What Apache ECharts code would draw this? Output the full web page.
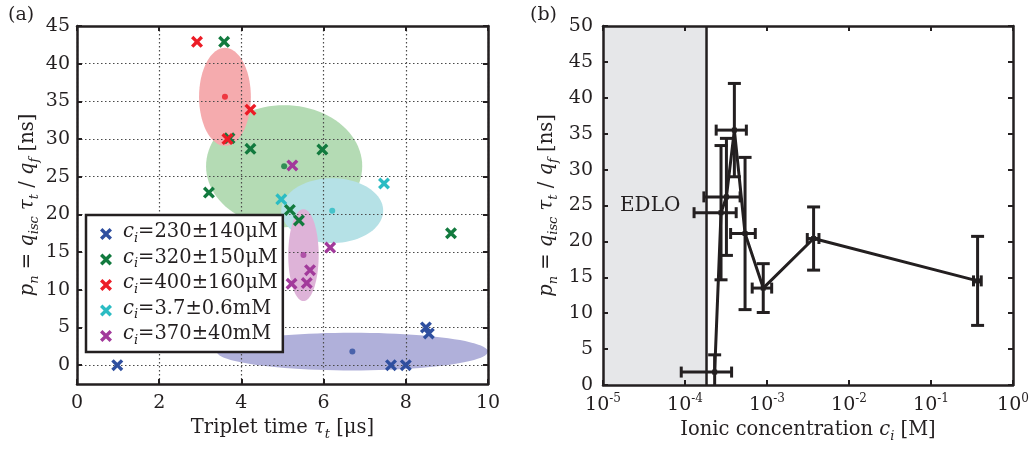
<!DOCTYPE html>
<html>
<head>
<meta charset="utf-8">
<script src="https://cdn.jsdelivr.net/npm/echarts@6/dist/echarts.min.js"></script>
<style>
  html, body { margin: 0; padding: 0; background: #fff; }
  #chart { width: 1035px; height: 454px; }
</style>
</head>
<body>
<div id="chart"></div>
<script>
// ---- panel (a): individual measurements, tau_t [us] vs p_n [ns] ----
const groupLabels = ['230±140μM', '320±150μM', '400±160μM', '3.7±0.6mM', '370±40mM'];
const groupColors = ['#2f4f9f', '#127a3e', '#ec1c26', '#2bbcc3', '#a23a9b'];
const ellipseFills = ['#b0b0da', '#b4dbb4', '#f5abae', '#b5e1e6', '#deb3d8'];

const pointsLow   = [[0.98, 0], [7.64, 0], [8.0, 0], [8.49, 5.0], [8.56, 4.2]];
const pointsMid   = [[3.58, 42.9], [3.71, 30.1], [4.22, 28.7], [5.97, 28.6], [3.21, 22.9], [5.18, 20.6], [5.40, 19.2], [9.10, 17.5]];
const pointsHigh  = [[2.92, 42.9], [4.22, 33.9], [3.66, 30.0]];
const pointsMilli = [[7.47, 24.1], [4.97, 22.0]];
const pointsMolar = [[5.24, 26.5], [6.16, 15.6], [5.67, 12.6], [5.22, 10.8], [5.59, 10.9]];
const groupPoints = [pointsLow, pointsMid, pointsHigh, pointsMilli, pointsMolar];

// group centre [tau, p] and spread [d_tau, d_p]
const groupCentres = [[6.70, 1.8], [5.04, 26.4], [3.60, 35.6], [6.21, 20.5], [5.51, 14.6]];
const groupSpread  = [[3.30, 2.5], [1.90, 8.1], [0.63, 6.5], [1.24, 4.3], [0.37, 6.1]];

const tauTicks = [0, 2, 4, 6, 8, 10];
const pTicksA = [0, 5, 10, 15, 20, 25, 30, 35, 40, 45];

// ---- panel (b): group means vs ionic concentration ----
const concentration = [2.3e-4, 2.75e-4, 3.2e-4, 4.0e-4, 5.4e-4, 9.0e-4, 3.7e-3, 0.37];
const concErr       = [1.4e-4, 1.46e-4, 1.5e-4, 1.6e-4, 1.8e-4, 2.4e-4, 0.6e-3, 0.04];
const pnMean        = [1.8, 24.0, 26.2, 35.5, 21.1, 13.5, 20.4, 14.5];
const pnErr         = [2.4, 9.35, 8.15, 6.5, 10.6, 3.4, 4.4, 6.2];
const edloLimit = 1.83e-4;
const pRangeB = [0, 50];

const ink = '#231f20';
const serif = 'DejaVu Serif';
const crossPath = 'path://M0,2 L2,0 L5,3 L8,0 L10,2 L7,5 L10,8 L8,10 L5,7 L2,10 L0,8 L3,5 Z';

const nameRich = {
  r:   { fontFamily: serif, fontSize: 19.5, color: ink, lineHeight: 22, padding: [0, 0, 3, 0], verticalAlign: 'bottom' },
  it:  { fontFamily: serif, fontSize: 19.5, color: ink, lineHeight: 22, padding: [0, 0, 3, 0], verticalAlign: 'bottom', fontStyle: 'italic' },
  sub: { fontFamily: serif, fontSize: 13, color: ink, lineHeight: 14, verticalAlign: 'bottom', fontStyle: 'italic' }
};

const chart = echarts.init(document.getElementById('chart'), null, { renderer: 'canvas' });

const tickStyle = { show: true, inside: true, length: 5, lineStyle: { color: ink, width: 2 } };
const frameLine = { show: true, onZero: false, lineStyle: { color: ink, width: 2.5 } };
const labelStyle = { fontFamily: serif, fontSize: 19, color: ink };

const series = [];

// spread ellipses
series.push({
  type: 'custom', name: 'spread', xAxisIndex: 0, yAxisIndex: 0, z: 1, silent: true,
  data: groupCentres.map((c, i) => [c[0], c[1], groupSpread[i][0], groupSpread[i][1]]),
  renderItem: function (params, api) {
    const cx = api.value(0), cy = api.value(1), rx = api.value(2), ry = api.value(3);
    const pts = [];
    for (let k = 0; k < 96; k++) {
      const t = k / 96 * Math.PI * 2;
      pts.push(api.coord([cx + rx * Math.cos(t), cy + ry * Math.sin(t)]));
    }
    return { type: 'polygon', shape: { points: pts }, style: { fill: ellipseFills[params.dataIndex] } };
  }
});

// measurements
groupPoints.forEach((pts, i) => {
  series.push({
    type: 'scatter', name: groupLabels[i], xAxisIndex: 0, yAxisIndex: 0, z: 5,
    symbol: crossPath, symbolSize: 12,
    itemStyle: { color: groupColors[i], opacity: 1 },
    data: pts
  });
});

// group centres
series.push({
  type: 'scatter', name: 'centres', xAxisIndex: 0, yAxisIndex: 0, z: 5,
  symbol: 'circle', symbolSize: 6,
  data: groupCentres.map((c, i) => ({ value: c, itemStyle: { color: groupColors[i] } }))
});

// panel (b): shaded EDLO region
series.push({
  type: 'line', name: 'edloRegion', xAxisIndex: 2, yAxisIndex: 2, z: 1,
  data: [], silent: true,
  markArea: {
    silent: true,
    itemStyle: { color: '#e6e7e9' },
    data: [[{ xAxis: 1e-5 }, { xAxis: edloLimit }]]
  }
});

// EDLO boundary
series.push({
  type: 'line', name: 'edloBoundary', xAxisIndex: 2, yAxisIndex: 2, z: 3, silent: true,
  data: pRangeB.map(p => [edloLimit, p]),
  symbol: 'none',
  lineStyle: { color: ink, width: 2.5 }
});

// connecting line through the group means
series.push({
  type: 'line', name: 'means', xAxisIndex: 2, yAxisIndex: 2, z: 4,
  data: concentration.map((c, i) => [c, pnMean[i]]),
  symbol: 'rect', symbolSize: 5,
  lineStyle: { color: ink, width: 3 },
  itemStyle: { color: ink }
});

// error bars in both directions
series.push({
  type: 'custom', name: 'errors', xAxisIndex: 2, yAxisIndex: 2, z: 4, clip: true, silent: true,
  data: concentration.map((c, i) => [c, pnMean[i], concErr[i], pnErr[i]]),
  renderItem: function (params, api) {
    const x = api.value(0), y = api.value(1), xe = api.value(2), ye = api.value(3);
    const top = api.coord([x, y + ye]), bot = api.coord([x, y - ye]);
    const lft = api.coord([x - xe, y]), rgt = api.coord([x + xe, y]);
    const capW = 6.5, capH = 5.5;
    const st = { stroke: ink, lineWidth: 3 };
    const ln = (x1, y1, x2, y2) => ({ type: 'line', shape: { x1, y1, x2, y2 }, style: st });
    return {
      type: 'group',
      children: [
        ln(top[0], top[1], bot[0], bot[1]),
        ln(top[0] - capW, top[1], top[0] + capW, top[1]),
        ln(bot[0] - capW, bot[1], bot[0] + capW, bot[1]),
        ln(lft[0], lft[1], rgt[0], rgt[1]),
        ln(lft[0], lft[1] - capH, lft[0], lft[1] + capH),
        ln(rgt[0], rgt[1] - capH, rgt[0], rgt[1] + capH)
      ]
    };
  }
});

const pnName = '{it|p}{sub|n}{r| = }{it|q}{sub|isc}{r| }{it|τ}{sub|t}{r| / }{it|q}{sub|f}{r| [ns]}';

const option = {
  animation: false,
  backgroundColor: '#ffffff',
  grid: [
    { left: 77, right: 547, top: 26, bottom: 70 },
    { left: 603, right: 22, top: 26, bottom: 69 }
  ],
  xAxis: [
    {
      gridIndex: 0, type: 'value', position: 'bottom', min: 0, max: 10, interval: 2, z: 3,
      axisLine: frameLine, axisTick: tickStyle,
      axisLabel: Object.assign({ margin: 10, customValues: tauTicks }, labelStyle),
      splitLine: { show: true, lineStyle: { color: '#4a4a4a', width: 1.2, type: [1.5, 2.5] } },
      name: '{r|Triplet time }{it|τ}{sub|t}{r| [μs]}',
      nameLocation: 'middle', nameGap: 32,
      nameTextStyle: { rich: nameRich }
    },
    {
      gridIndex: 0, type: 'value', position: 'top', min: 0, max: 10, interval: 2, z: 3,
      axisLine: frameLine, axisTick: tickStyle, axisLabel: { show: false }, splitLine: { show: false }
    },
    {
      gridIndex: 1, type: 'log', logBase: 10, position: 'bottom', min: 1e-5, max: 1, z: 3,
      axisLine: frameLine, axisTick: tickStyle,
      axisLabel: {
        margin: 8,
        formatter: function (v) { return '{b|10}{sup|' + Math.round(Math.log10(v)) + '}'; },
        rich: {
          b: { fontFamily: serif, fontSize: 19, color: ink, lineHeight: 22, verticalAlign: 'bottom' },
          sup: { fontFamily: serif, fontSize: 12, color: ink, lineHeight: 12, verticalAlign: 'top' }
        }
      },
      splitLine: { show: false },
      name: '{r|Ionic concentration }{it|c}{sub|i}{r| [M]}',
      nameLocation: 'middle', nameGap: 32,
      nameTextStyle: { rich: nameRich }
    },
    {
      gridIndex: 1, type: 'log', logBase: 10, position: 'top', min: 1e-5, max: 1, z: 3,
      axisLine: frameLine, axisTick: tickStyle, axisLabel: { show: false }, splitLine: { show: false }
    }
  ],
  yAxis: [
    {
      gridIndex: 0, type: 'value', position: 'left', min: -2.5, max: 45, z: 3,
      axisLine: frameLine,
      axisTick: Object.assign({ customValues: pTicksA }, tickStyle),
      axisLabel: Object.assign({ margin: 7, customValues: pTicksA }, labelStyle),
      splitLine: { show: true, lineStyle: { color: '#4a4a4a', width: 1.2, type: [1.5, 2.5] } },
      name: pnName,
      nameLocation: 'middle', nameGap: 36, nameRotate: 90,
      nameTextStyle: { rich: nameRich }
    },
    {
      gridIndex: 0, type: 'value', position: 'right', min: -2.5, max: 45, z: 3,
      axisLine: frameLine,
      axisTick: Object.assign({ customValues: pTicksA }, tickStyle),
      axisLabel: { show: false }, splitLine: { show: false }
    },
    {
      gridIndex: 1, type: 'value', position: 'left', min: 0, max: 50, interval: 5, z: 3,
      axisLine: frameLine, axisTick: tickStyle,
      axisLabel: Object.assign({ margin: 10 }, labelStyle),
      splitLine: { show: false },
      name: pnName,
      nameLocation: 'middle', nameGap: 43, nameRotate: 90,
      nameTextStyle: { rich: nameRich }
    },
    {
      gridIndex: 1, type: 'value', position: 'right', min: 0, max: 50, interval: 5, z: 3,
      axisLine: frameLine, axisTick: tickStyle, axisLabel: { show: false }, splitLine: { show: false }
    }
  ],
  legend: {
    data: groupLabels,
    orient: 'vertical', left: 86, top: 215, z: 10,
    backgroundColor: '#ffffff', borderColor: ink, borderWidth: 2.5, borderRadius: 0,
    padding: [7, 5, 5, 14],
    itemWidth: 12, itemHeight: 12, itemGap: 2.5,
    icon: crossPath,
    selectedMode: false,
    formatter: function (name) { return '{itl|c}{sub|i}{r|=' + name + '}'; },
    textStyle: {
      rich: Object.assign({
        itl: { fontFamily: serif, fontSize: 19.5, color: ink, lineHeight: 22, padding: [0, 0, 3, 6], verticalAlign: 'bottom', fontStyle: 'italic' }
      }, nameRich)
    }
  },
  graphic: [
    { type: 'text', left: 8, top: 6, style: { text: '(a)', fontFamily: serif, fontSize: 19, fill: ink } },
    { type: 'text', left: 530, top: 6, style: { text: '(b)', fontFamily: serif, fontSize: 19, fill: ink } },
    { type: 'text', left: 620, top: 196, z: 20, style: { text: 'EDLO', fontFamily: serif, fontSize: 20, fill: ink } }
  ],
  series: series
};

chart.setOption(option);
</script>
</body>
</html>
